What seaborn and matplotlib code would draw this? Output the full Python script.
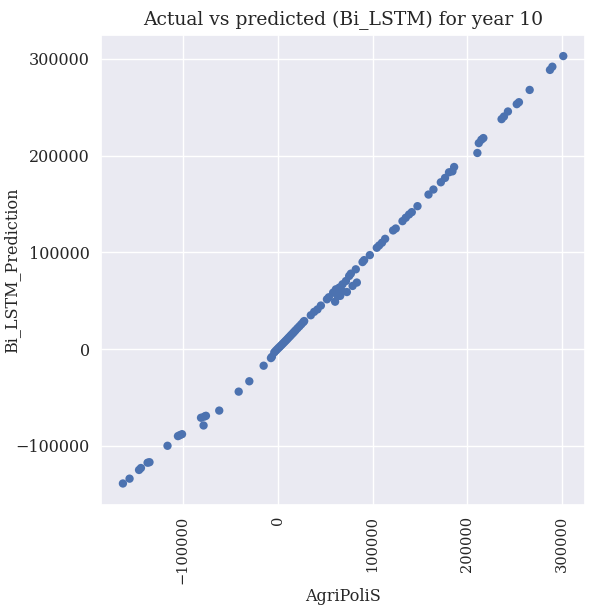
import numpy as np
import pandas as pd
import seaborn as sns
import matplotlib.pyplot as plt

# Values (actual AgriPoliS vs Bi_LSTM prediction)
agripolis = [
    -163000, -156000, -146000, -144000, -137000, -135000, -116000,
    -105000, -103000, -100700, -80700, -77200, -75500, -78000, -61500,
    -41000, -29800, -14700, -7000, -6000,
    -3500, -2000, -500, 1000, 2500, 4000, 5500, 7000, 8500, 10000,
    11500, 13000, 14500, 16000, 17500, 19000, 21000, 23000, 25000, 27000, 28000,
    35000, 38500, 42000, 45600, 52000, 54000,
    58500, 61400, 65000, 68400, 72000, 75400, 77200,
    82400, 89500, 91200, 97200,
    60600, 63200, 65900, 68400, 73000, 79000, 83500,
    104500, 107000, 110000, 113300, 121700, 124500,
    131600, 135000, 138500, 141400, 147400, 159000, 164200,
    172000, 176400, 180600, 184200, 186000,
    210500, 212000, 214700, 216800,
    236000, 238500, 242700, 252000, 254300, 265600,
    287000, 289500, 301000,
]
bi_lstm = [
    -139000, -134000, -125000, -123000, -117500, -117000, -100000,
    -90000, -89000, -88000, -71000, -69800, -69000, -79000, -63600,
    -44000, -33300, -17200, -9300, -8000,
    -3400, -1800, -300, 1200, 2600, 4100, 5600, 7100, 8600, 10100,
    11700, 13200, 14800, 16300, 17900, 19500, 21600, 23600, 25700, 27800, 29000,
    35000, 38500, 41000, 45000, 51500, 53600,
    58400, 61800, 63600, 67000, 70400, 75600, 78000,
    82500, 90000, 92000, 97200,
    49000, 55000, 55000, 59500, 59000, 65300, 68800,
    104800, 107200, 110000, 114000, 122700, 124700,
    132300, 135800, 139200, 141600, 147800, 159800, 165000,
    172500, 177000, 182800, 183800, 188300,
    202800, 213000, 216500, 218200,
    237800, 240500, 245700, 253300, 255300, 268000,
    288700, 292000, 303000,
]

df = pd.DataFrame({"AgriPoliS": agripolis, "Bi_LSTM_Prediction": bi_lstm})

sns.set_theme(style="darkgrid")
plt.rcParams["font.family"] = ["DejaVu Serif"]

fig = plt.figure(figsize=(5.9, 6.09), dpi=100)
ax = fig.add_axes([0.171, 0.171, 0.821, 0.772])
sns.scatterplot(data=df, x="AgriPoliS", y="Bi_LSTM_Prediction", ax=ax,
                s=36, color="#4c72b0", edgecolor="none")
ax.set_title("Actual vs predicted (Bi_LSTM) for year 10", fontsize=13.5, pad=7)
ax.set_xlabel("AgriPoliS", fontsize=11.5)
ax.set_ylabel("Bi_LSTM_Prediction", fontsize=11.5)
ax.tick_params(axis="x", labelrotation=90, labelsize=10.5, pad=2)
ax.tick_params(axis="y", labelsize=11.5, pad=2)
ax.ticklabel_format(style="plain")
ax.set_xticks([-100000, 0, 100000, 200000, 300000])
ax.set_yticks([-100000, 0, 100000, 200000, 300000])
ax.xaxis.set_label_coords(0.5, -0.176)
ax.yaxis.set_label_coords(-0.167, 0.5)

fig.savefig("out.png", dpi=100)
